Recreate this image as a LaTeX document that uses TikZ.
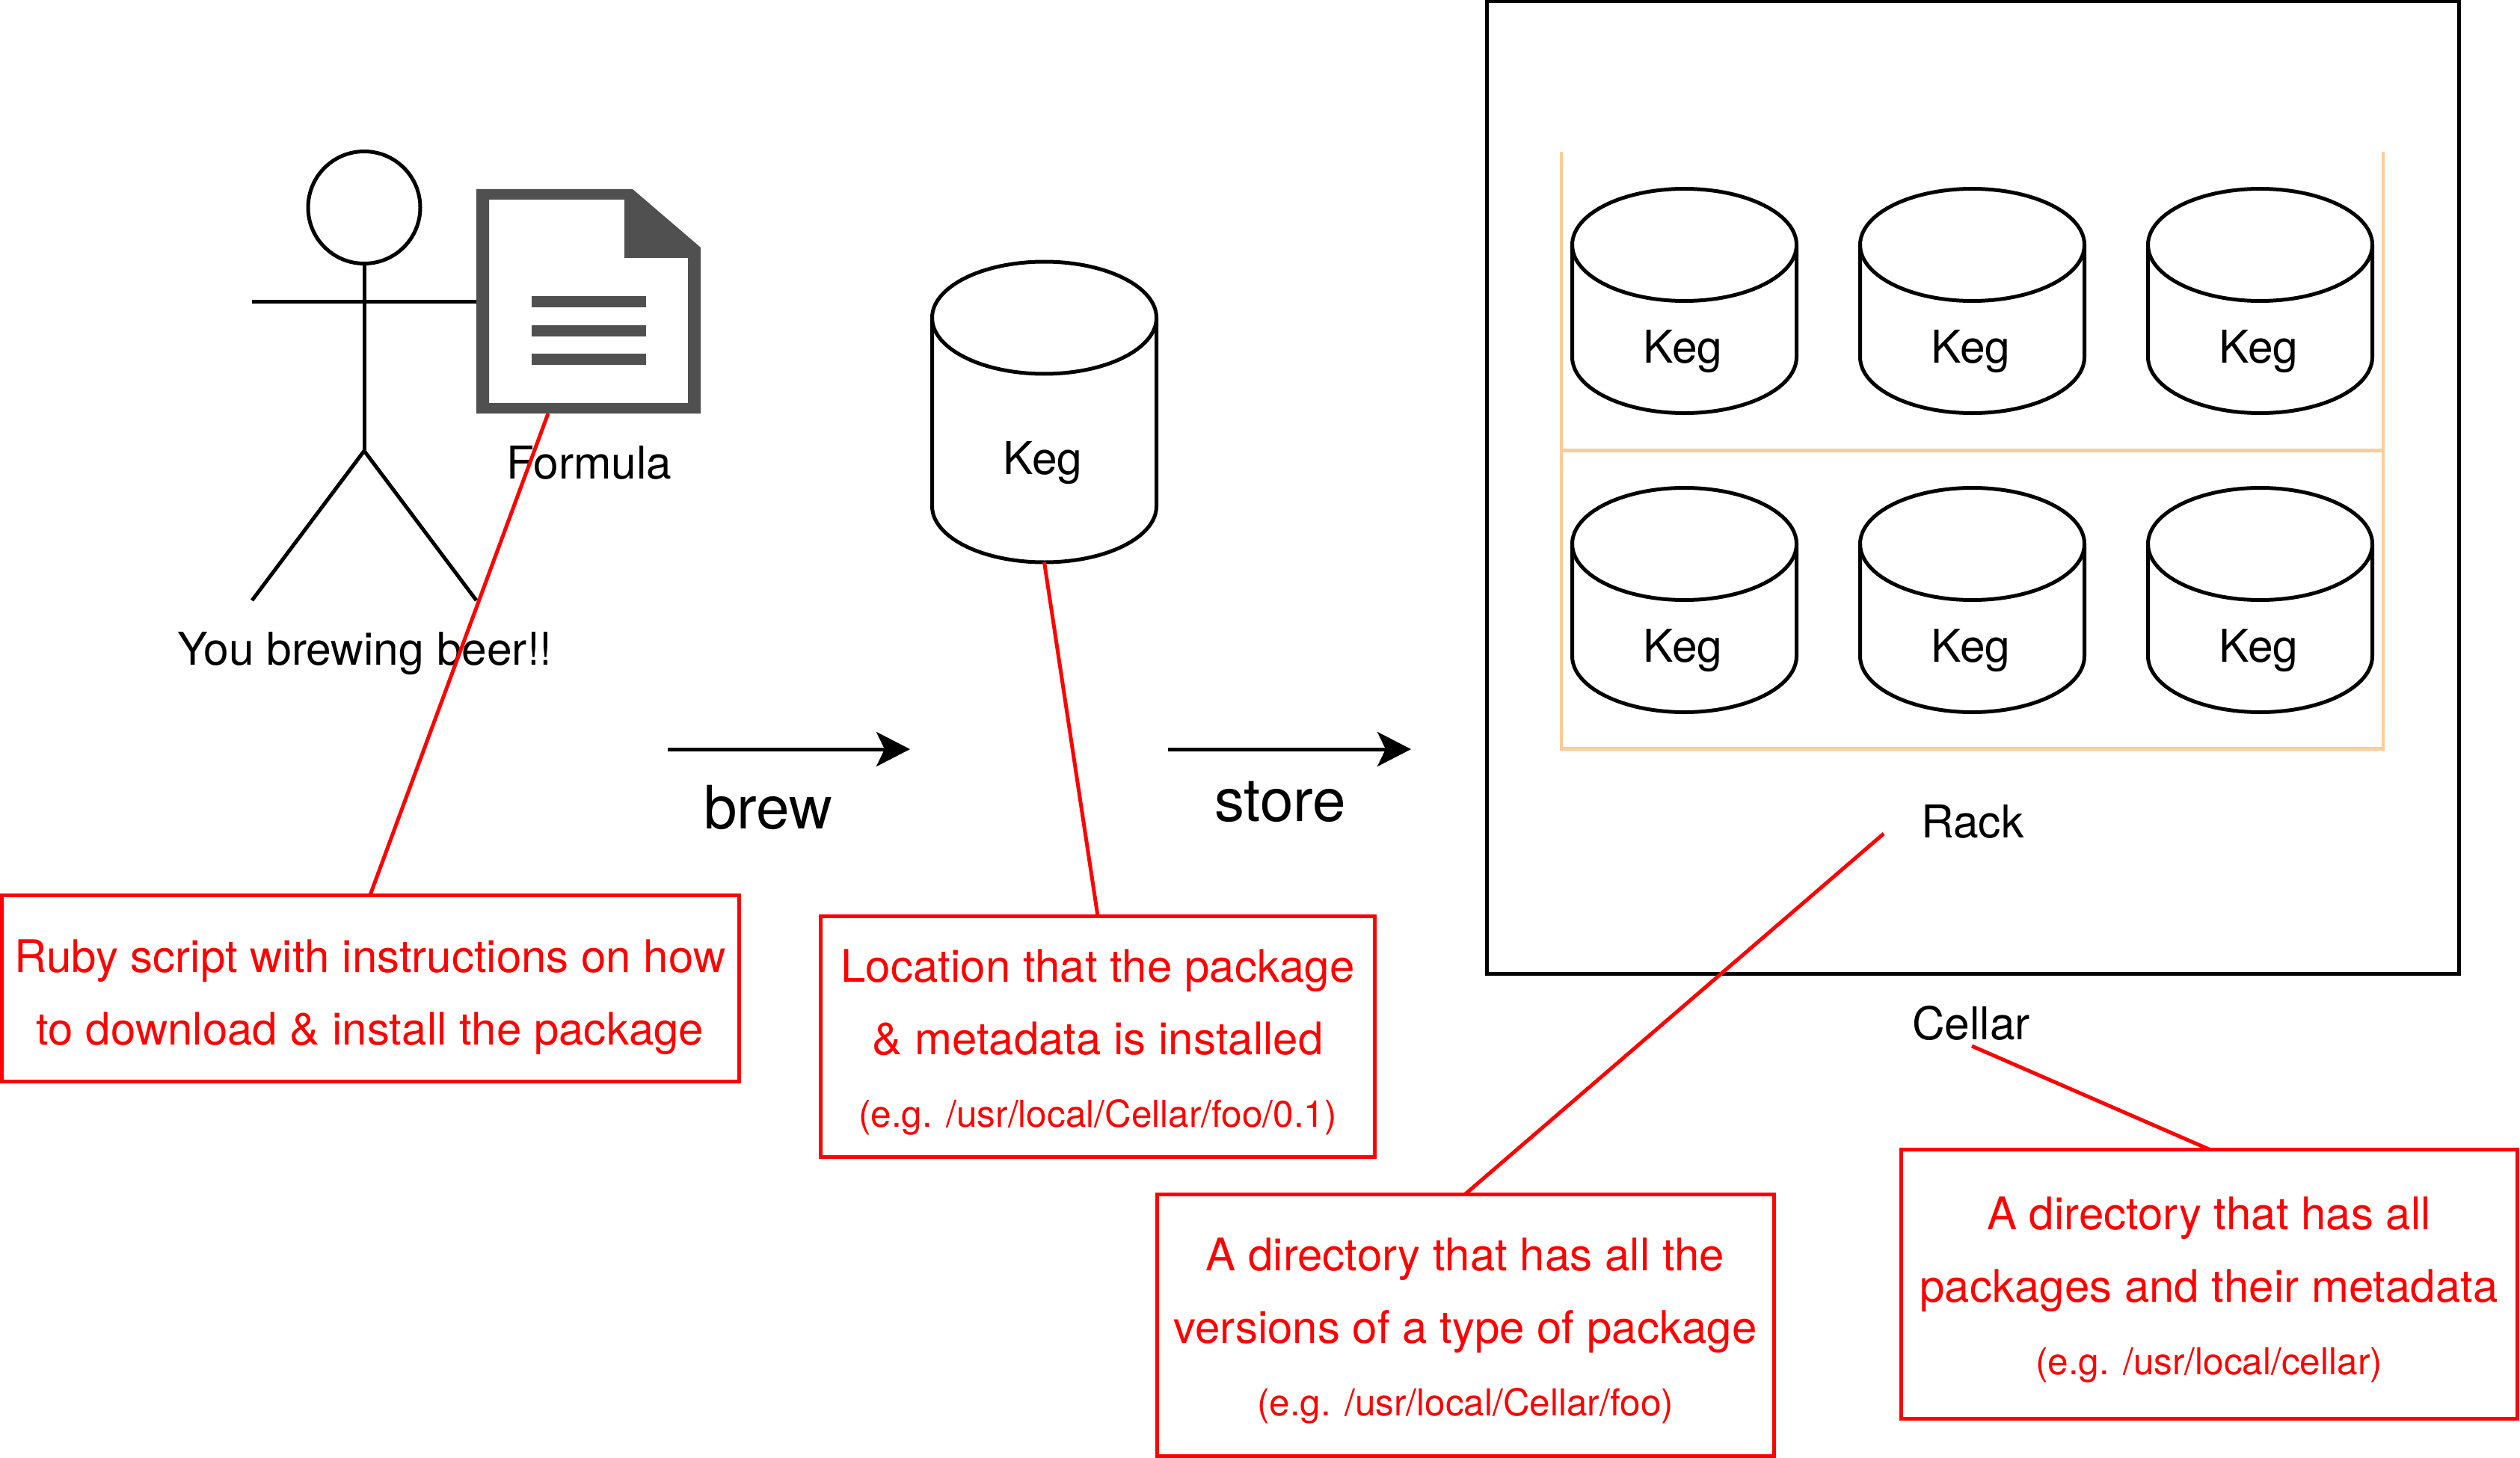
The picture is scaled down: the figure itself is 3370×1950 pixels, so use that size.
\documentclass[tikz,border=0pt]{standalone}
\usepackage{fontspec}
\setmainfont{TeX Gyre Heros}
\usetikzlibrary{arrows.meta}
\definecolor{rackc}{HTML}{FFCC99}
\definecolor{docc}{HTML}{505050}
\newcommand{\fnt}[1]{\fontsize{#1}{97}\selectfont}
\tikzset{
  inkline/.style={draw=black,line width=5pt},
  kegbox/.style={minimum width=300pt,inner sep=0pt,outer sep=0pt},
  labeltext/.style={font=\fnt{60.5},inner sep=0pt,text=black,anchor=base},
  redbox/.style={draw=red,line width=5pt,font=\fnt{60},text=red,align=center,inner sep=0pt,outer sep=0pt},
  redline/.style={draw=red,line width=5pt},
  flow/.style={draw=black,line width=5pt,-{Stealth[length=45pt,width=46pt,inset=11pt]}},
  rackline/.style={draw=rackc,line width=4.6pt},
  bigtext/.style={font=\fnt{80},inner sep=0pt,text=black,anchor=base},
  docbar/.style={fill=docc,draw=none},
}
\newcommand{\kegat}[4]{% name, centre x, top y (positive down), height
  \node[kegbox,minimum height=#4pt] (#1) at (#2,{-#3-#4/2}) {};
  \draw[inkline,fill=white] (#1.north west) ++(0,-75)
     -- ++(0,{-#4+150}) arc[start angle=180,end angle=360,x radius=150,y radius=75]
     -- ++(0,{#4-150}) arc[start angle=0,end angle=180,x radius=150,y radius=75];
  \draw[inkline] (#1.north west) ++(0,-75) arc[start angle=180,end angle=360,x radius=150,y radius=75];
  \node[labeltext] (#1text) at (#2-2,{-#3-#4/2-83}) {Keg};
}
\newcommand{\notetext}[2]{\raisebox{-#1pt}[\height][\depth]{\begin{tabular}{@{}c@{}}#2\end{tabular}}}
\begin{document}
\begin{tikzpicture}[x=1pt,y=1pt]
\useasboundingbox (0,-1950) rectangle (3370,0);
% person
\node[draw=black,line width=5pt,circle,minimum size=150pt,inner sep=0pt,outer sep=0pt] (head) at (487,-277.5) {};
\coordinate (hip) at (487,-603);
\coordinate (armL) at (337,-403);
\coordinate (armR) at (637,-403);
\coordinate (legL) at (337,-803);
\coordinate (legR) at (637,-803);
\draw[inkline] (head.south) -- (hip);
\draw[inkline] (armL) -- (armR);
\draw[inkline] (legL) -- (hip) -- (legR);
\node[labeltext] (you) at (488,-889) {You brewing beer!!};
% formula document
\node[inner sep=0pt,outer sep=0pt,minimum width=300pt,minimum height=300pt] (doc) at (787,-403) {};
\fill[docc,even odd rule] (637,-253) -- (846,-253) -- (937,-331) -- (937,-553) -- (637,-553) -- cycle
  (654,-267) -- (835,-267) -- (835,-345) -- (920,-345) -- (920,-539) -- (654,-539) -- cycle;
\fill[docbar] (711,-396) rectangle (864,-411);
\fill[docbar] (711,-434.5) rectangle (864,-449.5);
\fill[docbar] (711,-472.5) rectangle (864,-487.5);
\node[labeltext] (formula) at (788,-640) {Formula};
% main keg
\kegat{keg}{1396.5}{350}{402}
% cellar and rack
\node[draw=black,line width=5pt,inner sep=0pt,outer sep=0pt,minimum width=1300pt,minimum height=1300pt] (cellar) at (2638,-652) {};
\draw[rackline] (2088,-203) -- (2088,-1001.5) -- (3187,-1001.5) -- (3187,-203);
\draw[rackline] (2088,-602.5) -- (3187,-602.5);
\kegat{k1}{2252.5}{252.5}{300}
\kegat{k2}{2637.5}{252.5}{300}
\kegat{k3}{3022.5}{252.5}{300}
\kegat{k4}{2252.5}{652.5}{300}
\kegat{k5}{2637.5}{652.5}{300}
\kegat{k6}{3022.5}{652.5}{300}
\node[labeltext] (rack) at (2638,-1120) {Rack};
\node[labeltext] (cellarlabel) at (2636,-1390) {Cellar};
% flow arrows
\coordinate (a1s) at (892.5,-1002); \coordinate (a1e) at (1217,-1002);
\coordinate (a2s) at (1562,-1002); \coordinate (a2e) at (1887,-1002);
\draw[flow] (a1s) -- (a1e);
\draw[flow] (a2s) -- (a2e);
\node[bigtext] (brew) at (1027,-1108) {brew};
\node[bigtext] (store) at (1712,-1098) {store};
% red notes
\node[redbox,minimum width=986pt,minimum height=249pt] (n1) at (495,-1321.5)
  {\notetext{8.5}{Ruby script with instructions on how\\to download \& install the package}};
\node[redbox,minimum width=741pt,minimum height=322pt] (n2) at (1468,-1386)
  {\notetext{5}{Location that the package\\\& metadata is installed\\{\fnt{49.5}(e.g. /usr/local/Cellar/foo/0.1)}}};
\node[redbox,minimum width=825pt,minimum height=350pt] (n3) at (1959.5,-1772)
  {\notetext{5}{A directory that has all the\\versions of a type of package\\{\fnt{49.5}(e.g. /usr/local/Cellar/foo)}}};
\node[redbox,minimum width=824pt,minimum height=360pt] (n4) at (2954,-1717)
  {\notetext{5}{A directory that has all\\packages and their metadata\\{\fnt{49.5}(e.g. /usr/local/cellar)}}};
\coordinate (docfoot) at (733,-553);
\coordinate (rackfoot) at (2519,-1115);
\coordinate (cellarfoot) at (2637,-1399);
\draw[redline] (docfoot) -- (n1.north);
\draw[redline] (keg.south) -- (n2.north);
\draw[redline] (rackfoot) -- (n3.north);
\draw[redline] (cellarfoot) -- (n4.north);
\end{tikzpicture}
\end{document}
